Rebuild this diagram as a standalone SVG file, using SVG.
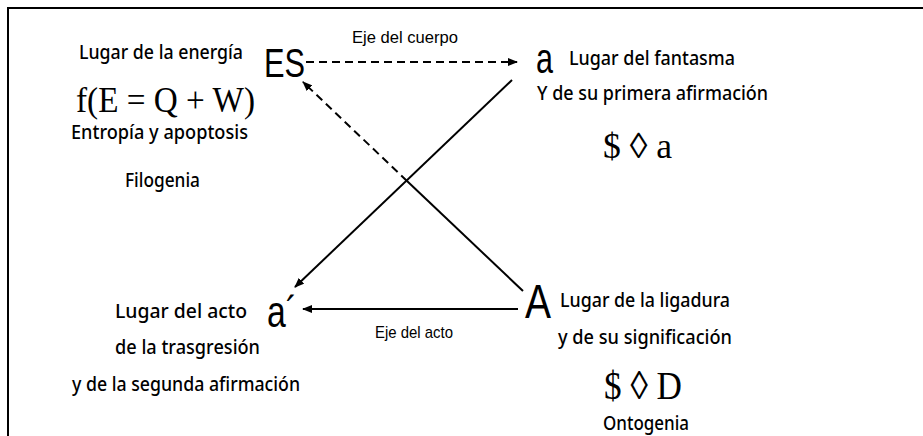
<svg xmlns="http://www.w3.org/2000/svg" width="923" height="436" viewBox="0 0 923 436">
<style>
.c{font-family:"Comic Sans MS","Noto Sans",sans-serif;font-size:19px;font-weight:500;fill:#000}
.s{font-family:"Liberation Sans",Arial,sans-serif;fill:#000}
.m{font-family:"Liberation Serif","Times New Roman",serif;fill:#000}
.ln{stroke:#000;stroke-width:2;fill:none}
.d{stroke-dasharray:8 5}
</style>
<defs>
<marker id="ah" markerUnits="userSpaceOnUse" markerWidth="10" markerHeight="8" refX="9" refY="4" orient="auto">
<path d="M0,0 L10,4 L0,8 Z" fill="#000"/>
</marker>
</defs>
<rect x="8" y="8" width="940" height="460" fill="none" stroke="#000" stroke-width="2"/>
<g id="connectors">
<line class="ln d" x1="306" y1="62" x2="517" y2="62" marker-end="url(#ah)"/>
<line class="ln" x1="523" y1="291" x2="407" y2="181"/>
<line class="ln d" x1="407" y1="181" x2="303" y2="82" marker-end="url(#ah)"/>
<line class="ln" x1="512" y1="80" x2="295" y2="287" marker-end="url(#ah)"/>
<line class="ln" x1="518" y1="309" x2="303" y2="309" marker-end="url(#ah)"/>
<text class="s" x="352" y="43" font-size="17" textLength="106" lengthAdjust="spacingAndGlyphs">Eje del cuerpo</text>
<text class="s" x="375" y="338" font-size="17" textLength="78" lengthAdjust="spacingAndGlyphs">Eje del acto</text>
</g>
<g id="node-ES">
<text class="s" x="264" y="77" font-size="40" textLength="41" lengthAdjust="spacingAndGlyphs">ES</text>
<text class="c" x="79" y="59" textLength="164" lengthAdjust="spacingAndGlyphs">Lugar de la energía</text>
<text class="m" x="76" y="112" font-size="36" textLength="179" lengthAdjust="spacingAndGlyphs">f(E = Q + W)</text>
<text class="c" x="71" y="139" textLength="177" lengthAdjust="spacingAndGlyphs">Entropía y apoptosis</text>
<text class="c" x="125" y="187" textLength="75" lengthAdjust="spacingAndGlyphs">Filogenia</text>
</g>
<g id="node-a">
<text class="s" x="536" y="73" font-size="42" textLength="17" lengthAdjust="spacingAndGlyphs">a</text>
<text class="c" x="569" y="65" textLength="166" lengthAdjust="spacingAndGlyphs">Lugar del fantasma</text>
<text class="c" x="537" y="100" textLength="231" lengthAdjust="spacingAndGlyphs">Y de su primera afirmación</text>
<text class="m" x="603" y="158" font-size="36" textLength="69" lengthAdjust="spacingAndGlyphs">$ ◊ a</text>
</g>
<g id="node-a-prime">
<text class="s" x="267" y="327" font-size="44" textLength="30" lengthAdjust="spacingAndGlyphs">a´</text>
<text class="c" x="115" y="318" textLength="132" lengthAdjust="spacingAndGlyphs">Lugar del acto</text>
<text class="c" x="115" y="354" textLength="145" lengthAdjust="spacingAndGlyphs">de la trasgresión</text>
<text class="c" x="72" y="391" textLength="228" lengthAdjust="spacingAndGlyphs">y de la segunda afirmación</text>
</g>
<g id="node-A">
<text class="s" x="525" y="318" font-size="48" textLength="26" lengthAdjust="spacingAndGlyphs">A</text>
<text class="c" x="560" y="307" textLength="170" lengthAdjust="spacingAndGlyphs">Lugar de la ligadura</text>
<text class="c" x="558" y="344" textLength="174" lengthAdjust="spacingAndGlyphs">y de su significación</text>
<text class="m" x="604" y="399" font-size="40" textLength="78" lengthAdjust="spacingAndGlyphs">$ ◊ D</text>
<text class="c" x="603" y="430" textLength="86" lengthAdjust="spacingAndGlyphs">Ontogenia</text>
</g>
</svg>
